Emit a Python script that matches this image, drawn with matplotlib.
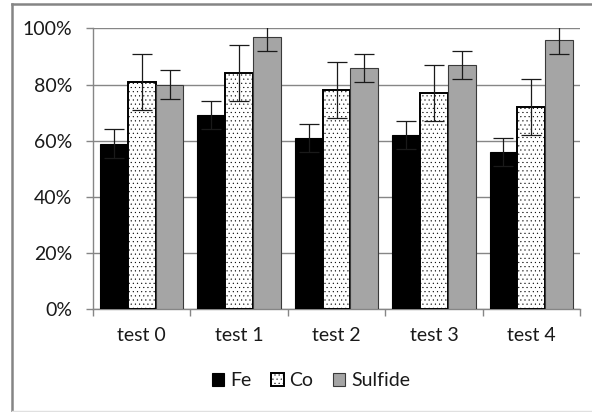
import numpy as np
import matplotlib
matplotlib.use("Agg")
import matplotlib.pyplot as plt
from matplotlib.lines import Line2D
from matplotlib.ticker import PercentFormatter, FixedLocator

# === Data ===
categories = ["test 0", "test 1", "test 2", "test 3", "test 4"]
fe = [0.59, 0.69, 0.61, 0.62, 0.56]
co = [0.81, 0.84, 0.78, 0.77, 0.72]
sulfide = [0.80, 0.97, 0.86, 0.87, 0.96]
fe_err = [0.05, 0.05, 0.05, 0.05, 0.05]
co_err = [0.10, 0.10, 0.10, 0.10, 0.10]
sulfide_err = [0.05, 0.05, 0.05, 0.05, 0.05]

plt.rcParams['font.family'] = ['Lato', 'DejaVu Sans']
plt.rcParams['hatch.linewidth'] = 0.3

W, H = 592, 412
fig = plt.figure(figsize=(W / 100, H / 100), dpi=100)
ax = fig.add_axes([93 / W, 1 - 309.3 / H, (580 - 93) / W, (309.3 - 28.3) / H])

x = np.arange(len(categories))
w = 1 / 3.5  # excel gap width 50%
err_kw = dict(fmt='none', ecolor='#1a1a1a', elinewidth=0.9, capsize=7, capthick=0.9, zorder=5)

ax.bar(x - w, fe, w, color='black', edgecolor='black', linewidth=0.8, zorder=3, label='Fe')
ax.bar(x, co, w, color='white', edgecolor='black', linewidth=1.4, hatch='....', zorder=3, label='Co')
ax.bar(x + w, sulfide, w, color='#a5a5a5', edgecolor='#3a3a3a', linewidth=0.8, zorder=3, label='Sulfide')
ax.errorbar(x - w, fe, yerr=fe_err, **err_kw)
ax.errorbar(x, co, yerr=co_err, **err_kw)
ax.errorbar(x + w, sulfide, yerr=sulfide_err, **err_kw)

ax.set_xlim(-0.5, len(categories) - 0.5)
ax.set_ylim(0, 1.0)
ax.yaxis.set_major_locator(FixedLocator([0, 0.2, 0.4, 0.6, 0.8, 1.0]))
ax.yaxis.set_major_formatter(PercentFormatter(1.0, decimals=0))
ax.set_xticks(x)
ax.set_xticklabels(categories)
ax.set_xticks(np.arange(len(categories) + 1) - 0.5, minor=True)

ax.grid(axis='y', color='#868686', linewidth=1.0, zorder=0)
ax.set_axisbelow(True)
for s in ['top', 'right']:
    ax.spines[s].set_visible(False)
for s in ['left', 'bottom']:
    ax.spines[s].set_color('#868686')
    ax.spines[s].set_linewidth(1.0)

ax.tick_params(axis='y', length=5, width=1.0, color='#868686', pad=10, labelsize=14, labelcolor='#1a1a1a')
ax.tick_params(axis='x', which='major', length=0, pad=13, labelsize=14, labelcolor='#1a1a1a')
ax.tick_params(axis='x', which='minor', length=5, width=1.0, color='#868686')

leg = fig.legend(loc='center', bbox_to_anchor=(311 / W, 1 - 381 / H), ncol=3, frameon=False,
                 fontsize=14, handlelength=0.65, handleheight=0.65, handletextpad=0.3,
                 columnspacing=1.0, borderpad=0)
for t in leg.get_texts():
    t.set_color('#1a1a1a')

# chart area border (partly cropped on the right in the original)
fig.add_artist(Line2D([11.5 / W, 11.5 / W], [1 - 4 / H, 1 - 411 / H], color='#858585', linewidth=1.8))
fig.add_artist(Line2D([11.5 / W, 1.0], [1 - 4 / H, 1 - 4 / H], color='#858585', linewidth=1.8))
fig.add_artist(Line2D([11.5 / W, 1.0], [1 - 411 / H, 1 - 411 / H], color='#e0e0e0', linewidth=1.0))

fig.savefig('out.png', dpi=100)
